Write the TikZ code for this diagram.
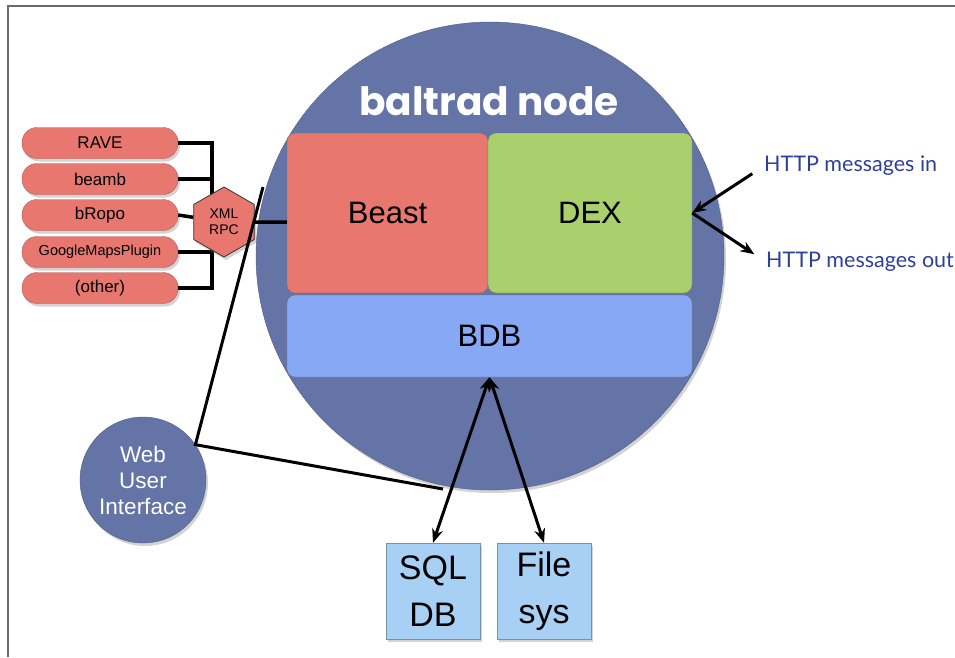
\documentclass[tikz,border=0pt]{standalone}
\usepackage{fontspec}
\setmainfont{Liberation Sans}
\newfontfamily\titlefont{Poppins}
\newfontfamily\httpfont{Lato}
\usetikzlibrary{shapes.geometric,arrows.meta,shadows}

\definecolor{nodeblue}{HTML}{6474A6}
\definecolor{beastred}{HTML}{E8776F}
\definecolor{dexgreen}{HTML}{AAD06E}
\definecolor{bdbblue}{HTML}{86A8F5}
\definecolor{storeblue}{HTML}{A8D0F5}
\definecolor{httpblue}{HTML}{2E409E}
\definecolor{framegray}{HTML}{6A6A6A}

\tikzset{
  softshadow/.style={drop shadow={opacity=0.35,shadow xshift=2pt,shadow yshift=-3pt}},
  plugin/.style={rectangle, rounded corners=15pt, fill=beastred, draw=beastred!75!black,
    minimum width=156pt, minimum height=31pt, inner sep=0pt, softshadow,
    font=\fontsize{17}{17}\selectfont},
  part/.style={rectangle, rounded corners=8pt, draw=black!55, inner sep=0pt,
    font=\fontsize{31}{31}\selectfont},
  store/.style={rectangle, fill=storeblue, draw=storeblue!70!black, inner sep=0pt,
    minimum width=94pt, minimum height=96pt, align=center, softshadow,
    font=\fontsize{34}{47}\selectfont},
  wire/.style={line width=3.5pt},
  arr/.style={line width=3pt, -{Stealth[length=14pt,width=11pt]}},
  darr/.style={line width=3pt, {Stealth[length=14pt,width=11pt]}-{Stealth[length=14pt,width=11pt]}},
  http/.style={anchor=west, text=httpblue, inner sep=0pt, font=\httpfont\fontsize{21.5}{21.5}\selectfont}
}

\begin{document}
\begin{tikzpicture}[x=1pt,y=-1pt]
\useasboundingbox (0,0) rectangle (955,657);
% frame
\draw[framegray, line width=2pt] (8,657) -- (8,6) -- (955,6);

% the node itself
\node[circle, fill=nodeblue, draw=nodeblue!80!black, minimum size=468pt, softshadow] (bnode) at (490,256) {};
\node[text=white, font=\titlefont\bfseries\fontsize{39}{39}\selectfont] (title) at (489,101) {baltrad node};
\node[part, fill=beastred, minimum width=201pt, minimum height=160pt] (beast) at (387.5,213) {Beast};
\node[part, fill=dexgreen, minimum width=204pt, minimum height=160pt] (dex) at (590,213) {DEX};
\node[part, fill=bdbblue, minimum width=405pt, minimum height=82pt] (bdb) at (489.5,336) {BDB};

% outside
\node[circle, fill=nodeblue, draw=nodeblue!80!black, minimum size=126pt, inner sep=0pt, softshadow,
  text=white, align=center, font=\fontsize{22.5}{26}\selectfont] (webui) at (143,480) {Web\\User\\Interface};
\node[store] (sql) at (433,591) {SQL\\DB};
\node[store] (files) at (544,591) {File\\sys};

% plugins
\node[plugin] (rave) at (100,143) {RAVE};
\node[plugin] (beamb) at (100,179) {beamb};
\node[plugin] (bropo) at (100,215) {bRopo};
\node[plugin, font=\fontsize{14.5}{14.5}\selectfont] (gmap) at (100,252) {GoogleMapsPlugin};
\node[plugin] (other) at (100,288) {(other)};

\coordinate (bus) at (212,0);
\draw[wire] (rave.east) -- (rave.east -| bus) -- (other.east -| bus) -- (other.east);
\draw[wire] (beamb.east) -- (beamb.east -| bus);
\draw[wire] (gmap.east) -- (gmap.east -| bus);

\node[regular polygon, regular polygon sides=6, shape border rotate=30, minimum size=70pt,
  inner sep=0pt, fill=beastred, draw=black!80, line width=0.8pt, softshadow, align=center,
  font=\fontsize{14}{16}\selectfont] (xml) at (224,222) {XML\\RPC};
\draw[wire] (bropo.east) -- (xml);
\draw[wire] (xml) -- (xml -| beast.west);

% web user interface links
\coordinate (wtop) at (263,187);
\coordinate (wbot) at (443,489);
\draw[line width=3pt] (wtop) -- (webui.34) -- (wbot);

% storage
\draw[darr] (bdb.south) -- (sql.north);
\draw[darr] (bdb.south) -- (files.north);

% http
\node[http] (httpin) at (764,166) {HTTP messages in};
\node[http] (httpout) at (766,262) {HTTP messages out};
\draw[arr, shorten <=14pt] (httpin.west) -- (dex.east);
\draw[arr, shorten >=14pt] (dex.east) -- (httpout.west);
\end{tikzpicture}
\end{document}
